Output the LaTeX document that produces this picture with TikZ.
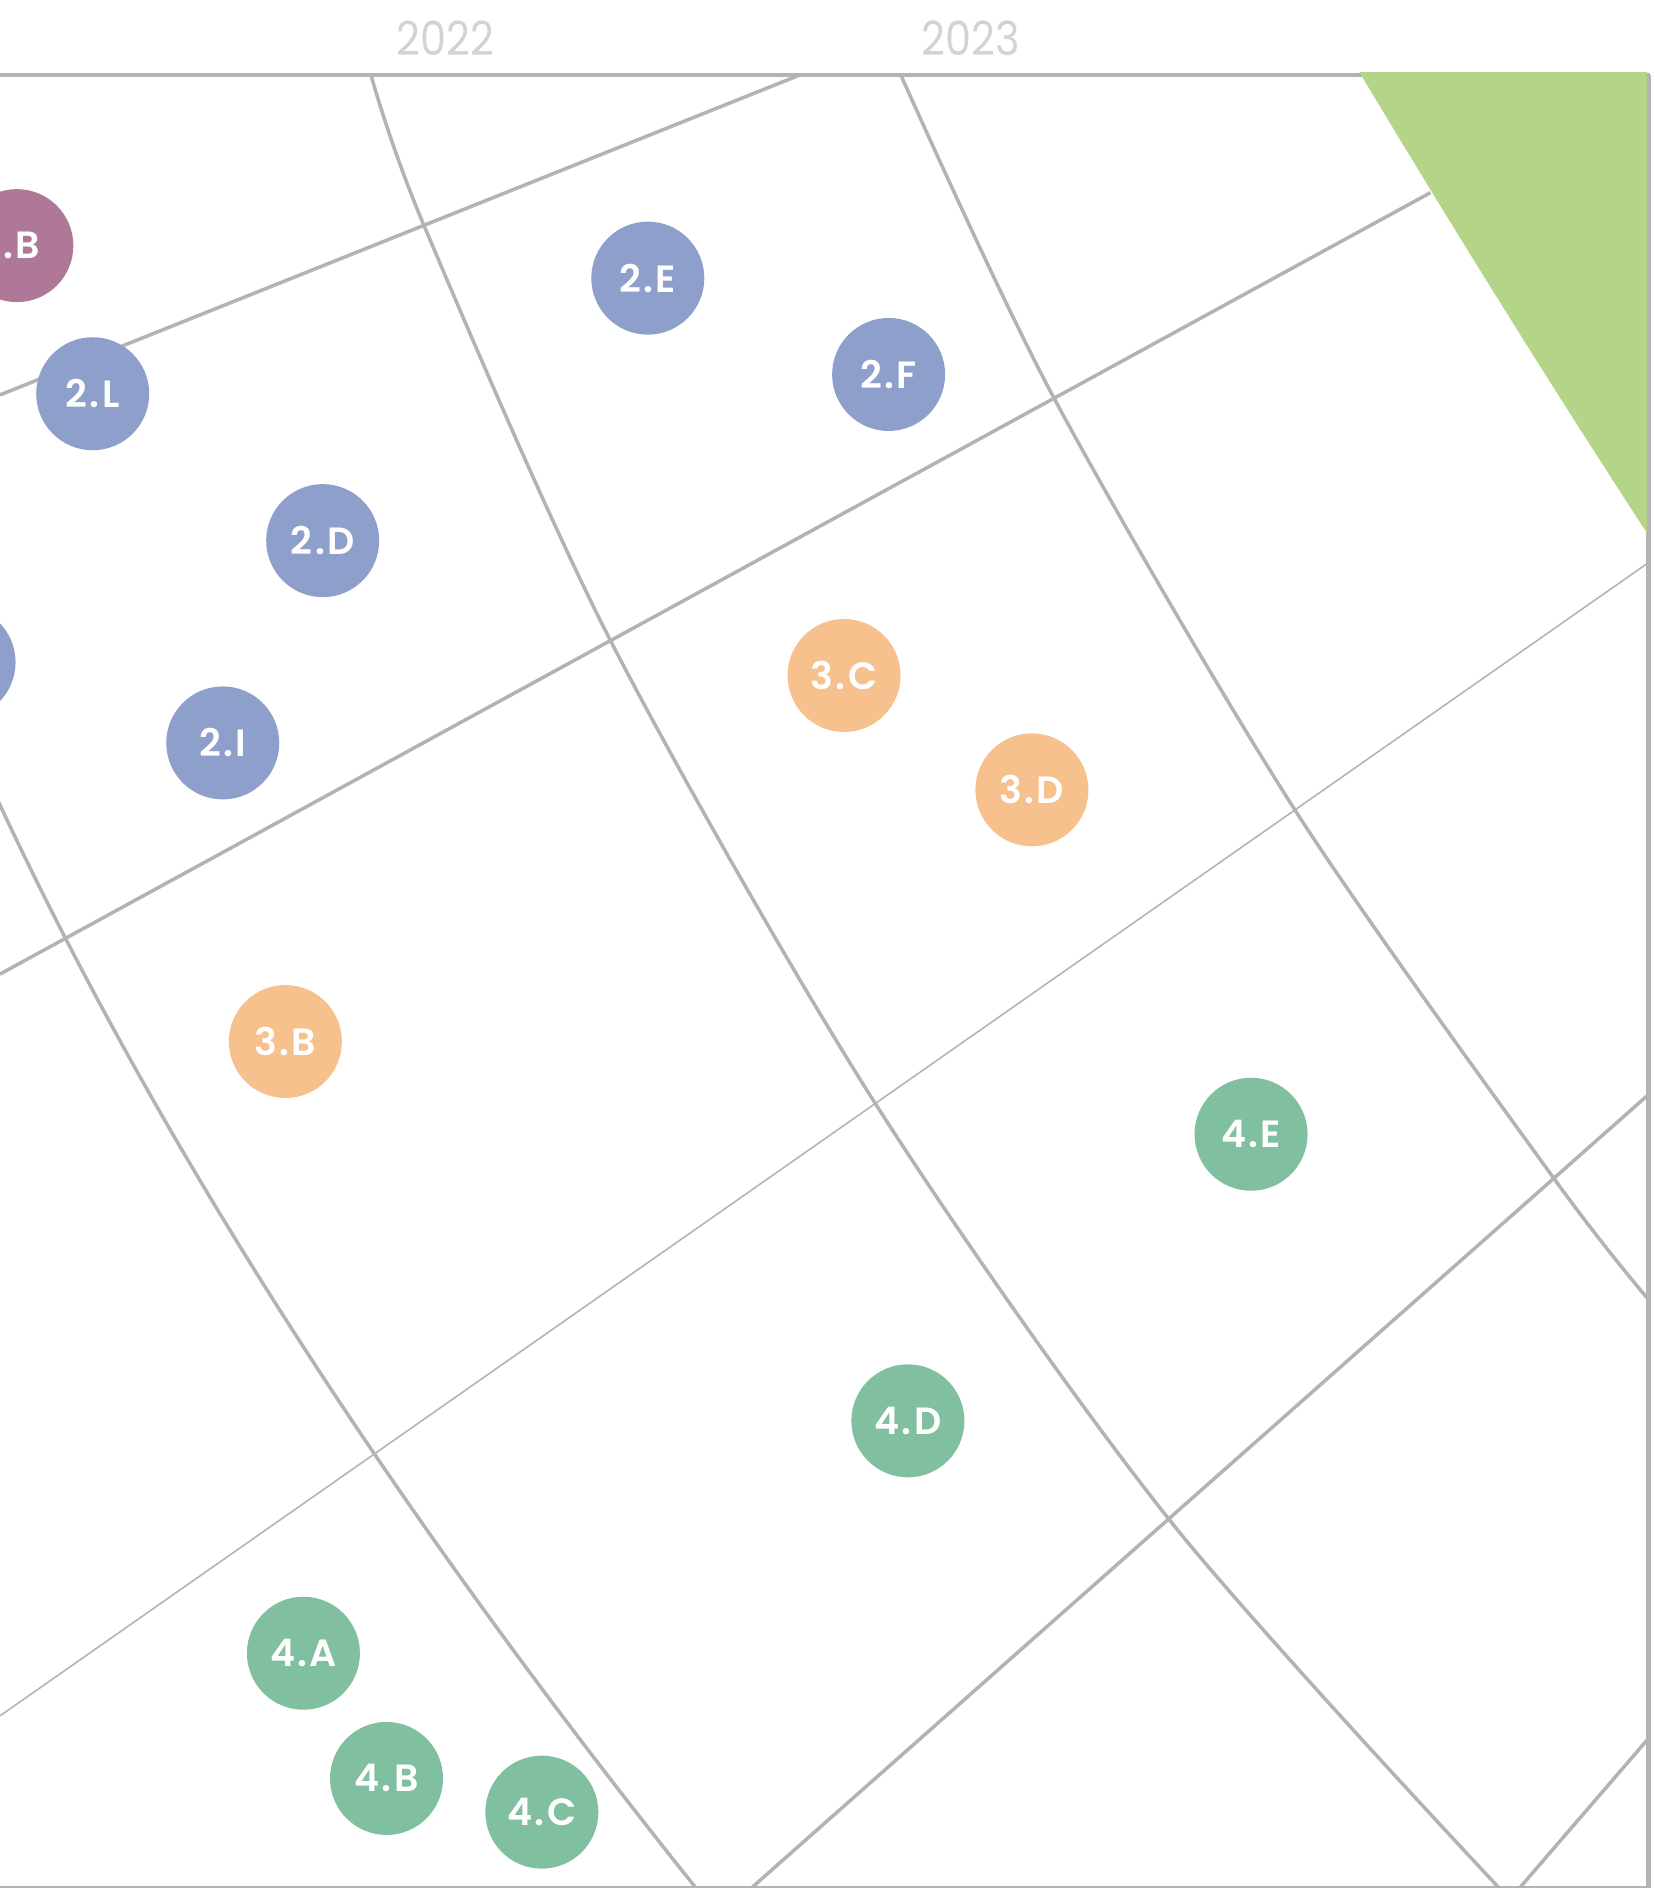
\documentclass[tikz,border=0pt]{standalone}
\usepackage{fontspec}
\setmainfont{Poppins}[BoldFont={* SemiBold}]
\newfontfamily\yearfont{Poppins}[FakeStretch=0.88]
\newfontfamily\dotfont{Poppins}[BoldFont={* SemiBold}, LetterSpace=6]
\usepackage{tikz}
\usetikzlibrary{positioning}

\definecolor{gridgray}{HTML}{B3B3B3}
\definecolor{yeargray}{HTML}{D3D3D3}
\definecolor{dotblue}{HTML}{8F9FCB}
\definecolor{dotorange}{HTML}{F7C18E}
\definecolor{dotgreen}{HTML}{80BF9F}
\definecolor{dotpink}{HTML}{B07898}
\definecolor{zonegreen}{HTML}{B4D587}

\begin{document}
\begin{tikzpicture}[x=0.012038cm, y=-0.012038cm,
    grid/.style={draw=gridgray, line width=1pt},
    thingrid/.style={draw=gridgray, line width=0.45pt},
    dot/.style={circle, minimum size=1.13cm, inner sep=0pt, text=white,
        font=\dotfont\bfseries\fontsize{10.8pt}{10.8pt}\selectfont},
    year/.style={text=yeargray, font=\yearfont\fontsize{13.4pt}{13.4pt}\selectfont}]
    \clip (0,0) rectangle (1374,1568);

    % Year labels
    \node[year] (y2022) at (370,32) {2022};
    \node[year] (y2023) at (806,32) {2023};

    % Parallels
    \draw[grid] (0,328) -- (665,62);
    \draw[grid] (0,809) -- (1188,160);
    \draw[thingrid] (0,1425) -- (1368,468);
    \draw[grid] (624,1568) -- (1368,910);
    \draw[grid] (1262,1568) -- (1368,1445);

    % Meridians
    \draw[grid] (-20,625) .. controls (121,939) and (327,1254) .. (578,1568);
    \draw[grid] plot[smooth] coordinates {(308,62) (352,187) (507,532) (726,915) (971,1262) (1245,1568)};
    \draw[grid] plot[smooth] coordinates {(748,62) (875,330) (1075,672) (1290,978) (1368,1078)};

    % Frame
    \draw[gridgray, line width=1.1pt] (0,62) -- (1370,62);
    \draw[gridgray, line width=1.2pt] (1369,62) -- (1369,1568);
    \draw[gridgray, line width=0.4pt] (0,1567) -- (1369,1567);

    % Green zone in the corner
    \fill[zonegreen] (1129,60) .. controls (1202,182) and (1284,314) .. (1368,443) -- (1368,60) -- cycle;

    % Group 1 and 2
    \node[dot, fill=dotpink] (d1B) at (14,204) {\hspace*{0.1cm}.B};
    \node[dot, fill=dotblue] (d2x) at (-34,550) {};
    \node[dot, fill=dotblue] (d2L) at (77,327) {2.L};
    \node[dot, fill=dotblue] (d2D) at (268,449) {2.D};
    \node[dot, fill=dotblue] (d2I) at (185,617) {2.I};
    \node[dot, fill=dotblue] (d2E) at (538,231) {2.E};
    \node[dot, fill=dotblue] (d2F) at (738,311) {2.F};

    % Group 3
    \node[dot, fill=dotorange] (d3C) at (701,561) {3.C};
    \node[dot, fill=dotorange] (d3D) at (857,656) {3.D};
    \node[dot, fill=dotorange] (d3B) at (237,865) {3.B};

    % Group 4
    \node[dot, fill=dotgreen] (d4E) at (1039,942) {4.E};
    \node[dot, fill=dotgreen] (d4D) at (754,1180) {4.D};
    \node[dot, fill=dotgreen] (d4A) at (252,1373) {4.A};
    \node[dot, fill=dotgreen] (d4B) at (321,1477) {4.B};
    \node[dot, fill=dotgreen] (d4C) at (450,1505) {4.C};

\end{tikzpicture}
\end{document}
